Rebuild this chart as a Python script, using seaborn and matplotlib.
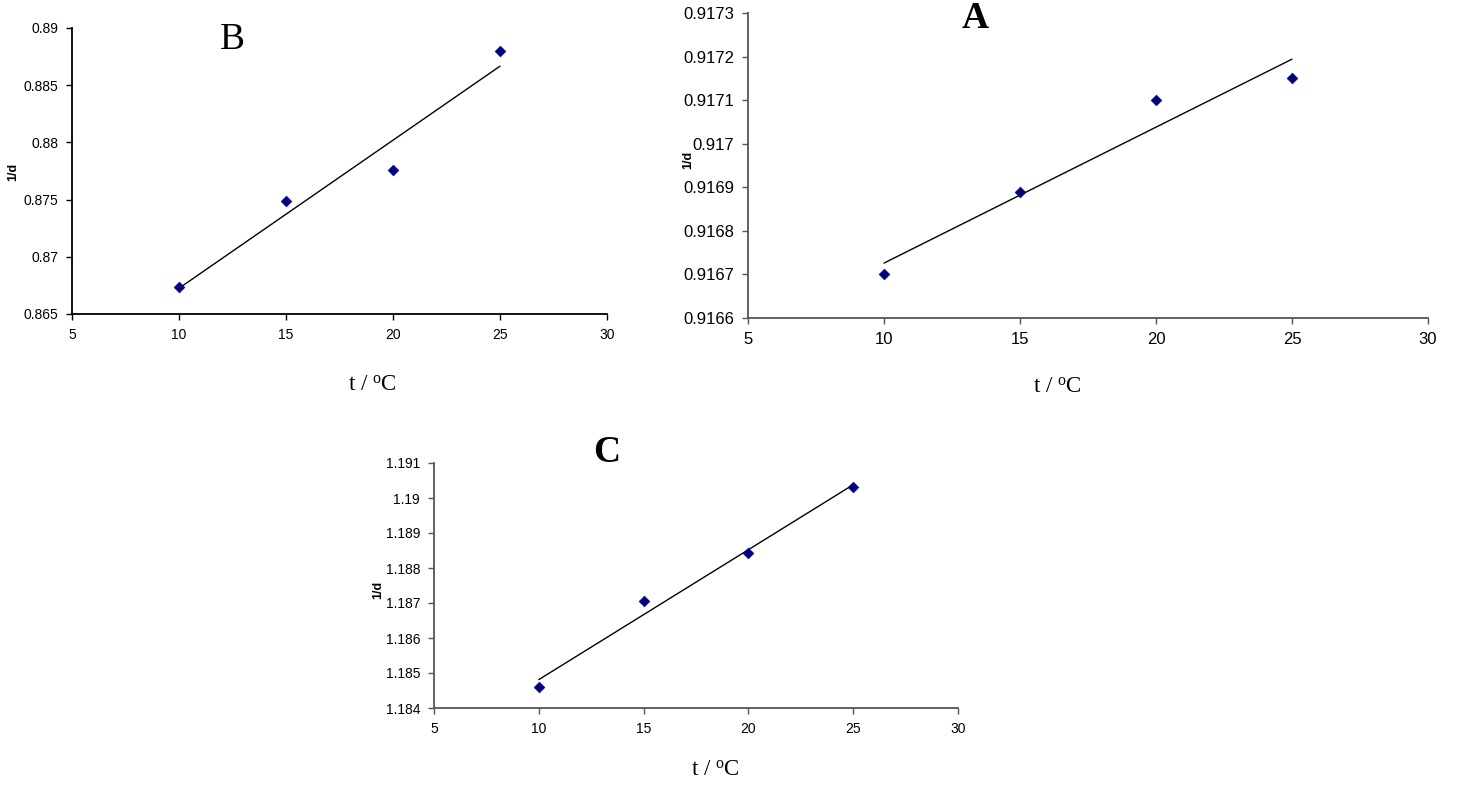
# 1/d versus temperature, three panels (A, B, C)
import numpy as np
import pandas as pd
import seaborn as sns
import matplotlib.pyplot as plt

# data
temps = [10, 15, 20, 25]
inv_d_A = [0.91670, 0.91689, 0.91710, 0.91715]
inv_d_B = [0.86732, 0.87492, 0.87759, 0.88800]
inv_d_C = [1.18459, 1.18705, 1.18842, 1.19032]

x_ticks = [5, 10, 15, 20, 25, 30]
y_ticks_A = [0.9166, 0.9167, 0.9168, 0.9169, 0.917, 0.9171, 0.9172, 0.9173]
y_ticks_B = [0.865, 0.87, 0.875, 0.88, 0.885, 0.89]
y_ticks_C = [1.184, 1.185, 1.186, 1.187, 1.188, 1.189, 1.19, 1.191]

sns.set_style("ticks")
plt.rcParams['font.family'] = ['Liberation Sans', 'DejaVu Sans']
plt.rcParams['mathtext.fontset'] = 'custom'
plt.rcParams['mathtext.rm'] = 'Liberation Serif'
plt.rcParams['text.color'] = 'black'

W, H = 1457, 785
fig = plt.figure(figsize=(W / 100, H / 100), dpi=100)


def box(left, top, right, bottom):
    # pixel box -> figure fraction rect
    return [left / W, 1 - bottom / H, (right - left) / W, (bottom - top) / H]


def panel(rect, values, yticks, spine_color, tick_size):
    ax = fig.add_axes(rect)
    df = pd.DataFrame({'t': temps, 'inv_d': values})
    sns.regplot(data=df, x='t', y='inv_d', scatter=False, ci=None, ax=ax,
                line_kws=dict(color='black', lw=1))
    sns.scatterplot(data=df, x='t', y='inv_d', marker='D', s=30, color='#000080',
                    edgecolor='#000080', ax=ax, zorder=3)
    ax.set_xlim(5, 30)
    ax.set_ylim(yticks[0], yticks[-1])
    ax.set_xticks(x_ticks)
    ax.set_xticklabels([str(v) for v in x_ticks])
    ax.set_yticks(yticks)
    ax.set_yticklabels([('%.4f' % v).rstrip('0').rstrip('.') for v in yticks])
    ax.set_xlabel('')
    ax.set_ylabel('')
    for s in ['top', 'right']:
        ax.spines[s].set_visible(False)
    for s in ['left', 'bottom']:
        ax.spines[s].set_color(spine_color)
        ax.spines[s].set_linewidth(1.3)
    ax.tick_params(axis='both', direction='out', length=4, width=1, color=spine_color,
                   labelcolor='black', labelsize=tick_size, pad=6)
    return ax


panel(box(72, 28, 607, 314), inv_d_B, y_ticks_B, 'black', 10)
panel(box(748, 13, 1428, 318), inv_d_A, y_ticks_A, '#555555', 12)
panel(box(434, 463, 958, 708), inv_d_C, y_ticks_C, '#555555', 10)


def ftext(x, y, s, **kw):
    fig.text(x / W, 1 - y / H, s, ha='center', va='center', color='black', **kw)


# panel letters
ftext(232, 40, 'B', fontsize=27, family='Liberation Serif')
ftext(975, 18, 'A', fontsize=27, family='Liberation Serif', weight='bold')
ftext(607, 452, 'C', fontsize=27, family='Liberation Serif', weight='bold')

# axis labels
xl = r't / $\mathregular{^{o}}$C'
ftext(372, 385, xl, fontsize=16.5, family='Liberation Serif')
ftext(1057, 387, xl, fontsize=16.5, family='Liberation Serif')
ftext(715, 770, xl, fontsize=16.5, family='Liberation Serif')
ftext(13, 172, '1/d', fontsize=9, weight='bold', rotation=90)
ftext(688, 160, '1/d', fontsize=9, weight='bold', rotation=90)
ftext(378, 590, '1/d', fontsize=9, weight='bold', rotation=90)

plt.savefig('out.png', dpi=100)
